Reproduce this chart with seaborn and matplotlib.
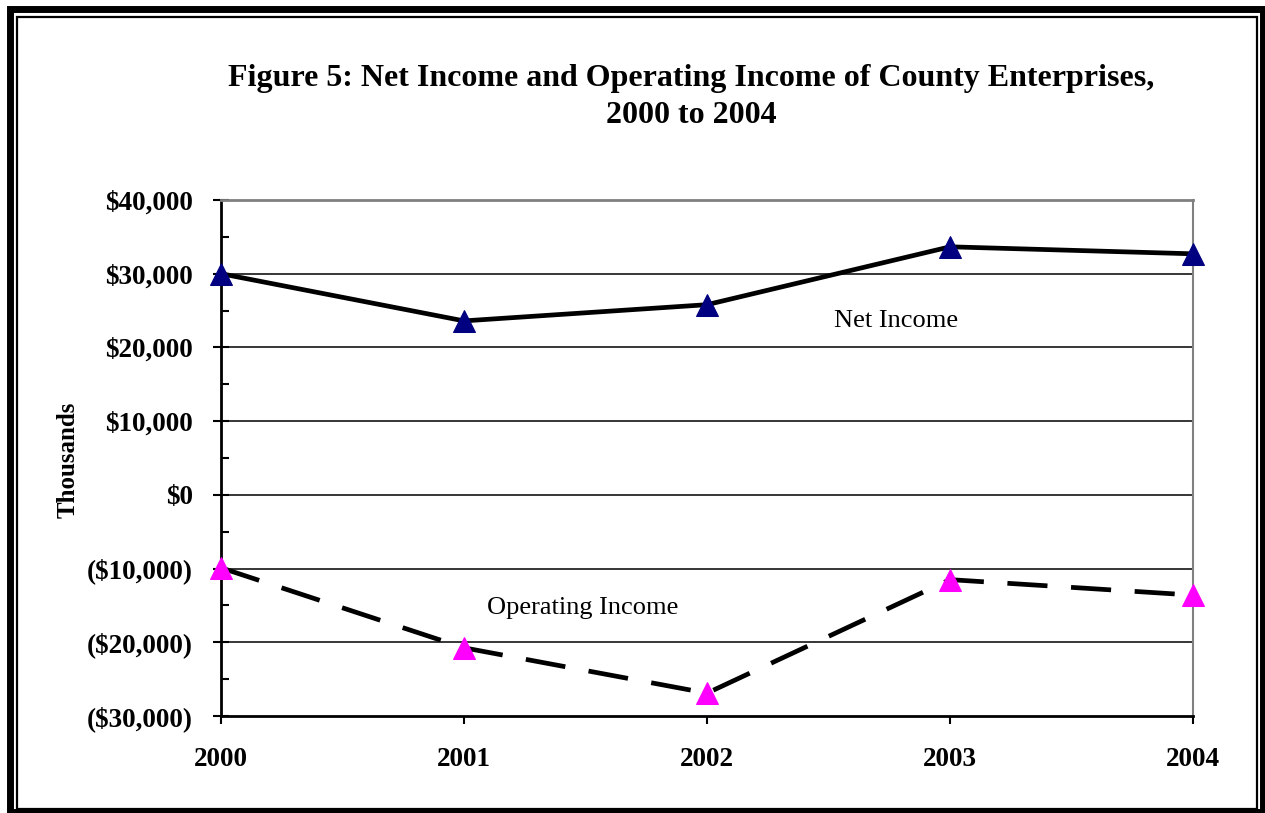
import pandas as pd
import numpy as np
import matplotlib
matplotlib.use("Agg")
import matplotlib.pyplot as plt
import seaborn as sns
from matplotlib.patches import Rectangle
from matplotlib.ticker import MultipleLocator, FuncFormatter

# data (thousands of dollars)
years = [2000, 2001, 2002, 2003, 2004]
net_income = [30000, 23600, 25800, 33650, 32700]
operating_income = [-9900, -20750, -26900, -11500, -13600]

title = "Figure 5: Net Income and Operating Income of County Enterprises,\n2000 to 2004"

df = pd.DataFrame({"year": years, "net": net_income, "oper": operating_income})

sns.set_theme(style="white")
plt.rcParams["font.family"] = ["Liberation Serif", "DejaVu Serif"]
plt.rcParams["text.color"] = "black"
plt.rcParams["axes.labelcolor"] = "black"
plt.rcParams["xtick.color"] = "black"
plt.rcParams["ytick.color"] = "black"

W, H = 1265, 813
fig = plt.figure(figsize=(W / 100, H / 100), dpi=100)
ax = fig.add_axes([221 / W, 1 - 716 / H, (1193 - 221) / W, (716 - 200) / H])

# gridlines first so the lines sit on top
for v in range(-20000, 40000, 10000):
    ax.axhline(v, color="black", lw=1.1, zorder=1)

sns.lineplot(data=df, x="year", y="net", ax=ax, color="black", lw=3.4,
             marker="^", markersize=16, markerfacecolor="#000080",
             markeredgecolor="#000080", zorder=3, clip_on=False)
sns.lineplot(data=df, x="year", y="oper", ax=ax, color="black", lw=3.4,
             dashes=(8.5, 5), marker="^", markersize=16,
             markerfacecolor="#FF00FF", markeredgecolor="#FF00FF", zorder=3,
             clip_on=False)

ax.set_xlim(years[0], years[-1])
ax.set_ylim(-30000, 40000)
ax.set_xticks(years)
ax.set_xticklabels([str(y) for y in years])
ax.yaxis.set_major_locator(MultipleLocator(10000))
ax.yaxis.set_minor_locator(MultipleLocator(5000))


def money(v, pos):
    if v < 0:
        return "(${:,.0f})".format(-v)
    return "${:,.0f}".format(v)


ax.yaxis.set_major_formatter(FuncFormatter(money))
ax.set_xlabel("")
ax.set_ylabel("")

for lab in ax.get_yticklabels() + ax.get_xticklabels():
    lab.set_fontweight("bold")
    lab.set_fontsize(19.5)
    lab.set_color("black")

ax.tick_params(axis="y", which="major", direction="inout", length=12, width=1.5,
               color="black", pad=14, left=True)
ax.tick_params(axis="y", which="minor", direction="in", length=5.5, width=1.5,
               color="black", left=True)
ax.tick_params(axis="x", which="major", direction="out", length=6, width=1.5,
               color="black", pad=16, bottom=True)

ax.spines["left"].set_color("black")
ax.spines["left"].set_linewidth(2)
ax.spines["bottom"].set_color("black")
ax.spines["bottom"].set_linewidth(2)
ax.spines["top"].set_color("#808080")
ax.spines["top"].set_linewidth(2)
ax.spines["right"].set_color("#808080")
ax.spines["right"].set_linewidth(1.5)
for s in ax.spines.values():
    s.set_visible(True)

# series labels
ax.text(2002.78, 23600, "Net Income", fontsize=19, ha="center", va="center")
ax.text(2001.49, -15400, "Operating Income", fontsize=19, ha="center", va="center")

fig.text(691 / W, 1 - 97 / H, title, fontsize=23, fontweight="bold",
         ha="center", va="center", linespacing=1.4)
fig.text(68 / W, 1 - 460 / H, "Thousands", fontsize=18, fontweight="bold",
         rotation=90, ha="center", va="center")

# double border around the figure
outer = Rectangle((10 / W, (H - 812) / H), (1263 - 10) / W, (812 - 9.5) / H,
                  transform=fig.transFigure, fill=False, lw=5, ec="black")
inner = Rectangle((16.5 / W, (H - 809) / H), (1257 - 16.5) / W, (809 - 17) / H,
                  transform=fig.transFigure, fill=False, lw=1.6, ec="black")
fig.patches.extend([outer, inner])

fig.savefig("out.png", dpi=100)
